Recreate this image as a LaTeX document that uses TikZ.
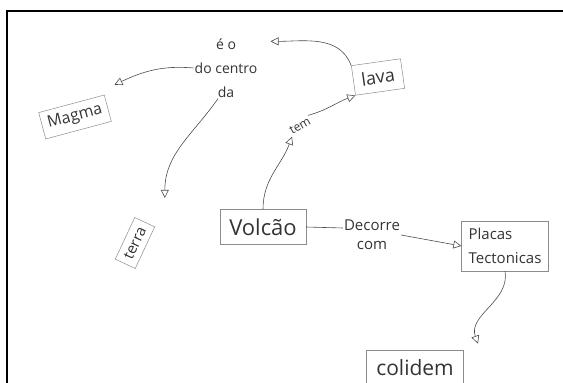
\documentclass[tikz,border=0pt]{standalone}
\usepackage{fontspec}
\setmainfont{Open Sans}
\usetikzlibrary{positioning,arrows.meta}

\tikzset{
  concept/.style={rectangle,draw=black!45,line width=0.5pt,inner sep=6pt,text=black!80},
  linking/.style={inner sep=1pt,text=black!80,align=center},
  arrow/.style={draw=black!70,line width=0.6pt,-{Triangle[open,length=8pt,width=8pt]}},
  joint/.style={draw=black!70,line width=0.6pt}
}

\begin{document}
\begin{tikzpicture}[x=1pt,y=1pt]
  \useasboundingbox (0,0) rectangle (563,383);
  \draw[line width=1.4pt] (7,0) -- (7,372) -- (563,372);

  \node(centro)[linking,font=\fontsize{14}{24}\selectfont] at (226,315) {é o\\do centro\\da};
  \node(magma)[concept,rotate=15,font=\fontsize{16}{18}\selectfont] at (75,266) {Magma};
  \node(lava)[concept,rotate=8,inner sep=8pt,font=\fontsize{18}{20}\selectfont] at (378,306) {lava};
  \node(terra)[concept,rotate=65,font=\fontsize{15}{17}\selectfont] at (135,140) {terra};
  \node(volcao)[concept,inner sep=9pt,font=\fontsize{22}{26}\selectfont] at (263,156) {Volcão};
  \node(tem)[linking,rotate=30,font=\fontsize{12}{14}\selectfont] at (300,257) {tem};
  \node(decorre)[linking,font=\fontsize{15}{19}\selectfont] at (372,148) {Decorre\\com};
  \node(placas)[concept,align=left,inner sep=7pt,font=\fontsize{15}{24}\selectfont] at (505,137) {Placas\\Tectonicas};
  \node(colidem)[concept,inner sep=10pt,font=\fontsize{21}{24}\selectfont] at (415,15) {colidem};

\draw[arrow](lava.north west) to[out=110,in=0] ([xshift=12pt,yshift=-4pt]centro.north east);
\draw[arrow](centro.west) to[out=175,in=25] ([xshift=10pt,yshift=10pt]magma.north east);
\draw[arrow]([xshift=-8pt]centro.south) to[out=235,in=90] ([xshift=20pt,yshift=24pt]terra.east);
\draw[arrow](volcao.north) to[out=90,in=250] (tem.south west);
\draw[arrow](tem.north east) to[out=15,in=200] (lava.south west);
\draw[joint](volcao.east) -- ([yshift=7pt]decorre.west);
\draw[arrow](decorre.east) -- (placas.west);
\draw[arrow](placas.south) to[out=-80,in=110] ([xshift=14pt,yshift=6pt]colidem.north east);
\end{tikzpicture}
\end{document}
